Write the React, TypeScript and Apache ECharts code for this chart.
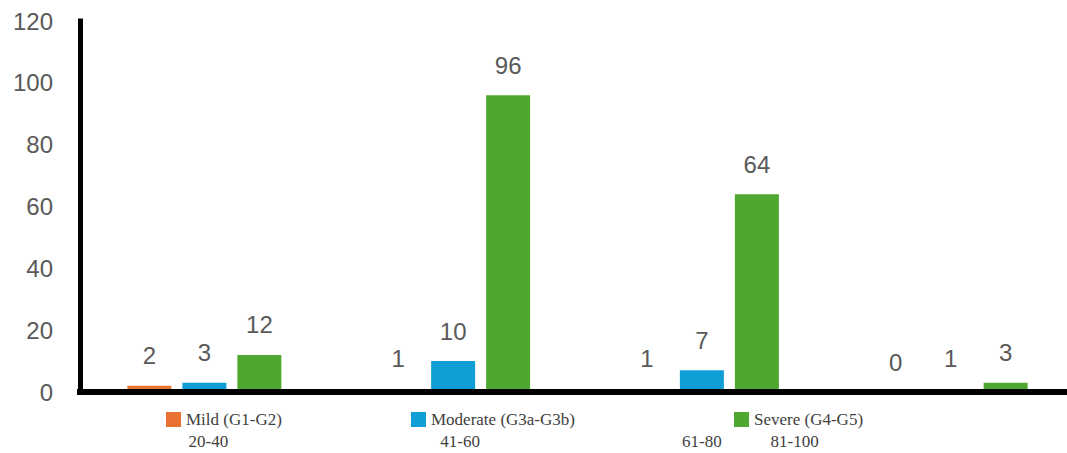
import React, { useEffect, useRef } from "react";
import * as echarts from "echarts";

const categories = ["20-40", "41-60", "61-80", "81-100"];
const seriesNames = ["Mild (G1-G2)", "Moderate (G3a-G3b)", "Severe (G4-G5)"];
const mild = [2, 1, 1, 0];
const moderate = [3, 10, 7, 1];
const severe = [12, 96, 64, 3];
const yTicks = { min: 0, max: 120, interval: 20 };

const colors = ["#E97132", "#0F9ED5", "#4EA72E"];
const labelShift = [4, 7, 0, -156];
const legendLeft = [166, 411, 734];

export default function App() {
  const ref = useRef<HTMLDivElement>(null);
  useEffect(() => {
    if (!ref.current) return;
    const chart = echarts.init(ref.current, null, { renderer: "svg" });
    const rich: Record<string, any> = {};
    labelShift.forEach((s, i) => {
      rich["l" + i] = {
        fontFamily: "Liberation Serif",
        fontSize: 17,
        color: "#404040",
        padding: s >= 0 ? [0, 0, 0, 2 * s] : [0, -2 * s, 0, 0],
      };
    });
    const data = [mild, moderate, severe];
    chart.setOption({
      animation: false,
      backgroundColor: "#ffffff",
      grid: { left: 80, top: 21, width: 995, height: 371, containLabel: false },
      legend: seriesNames.map((n, i) => ({
        data: [n],
        left: legendLeft[i],
        top: 411,
        itemWidth: 15,
        itemHeight: 15,
        itemGap: 6,
        icon: "rect",
        padding: 0,
        textStyle: { fontFamily: "Liberation Serif", fontSize: 17, color: "#404040" },
      })),
      xAxis: {
        type: "category",
        data: categories,
        z: 5,
        axisLine: { show: true, lineStyle: { color: "#000", width: 6, cap: "square" } },
        axisTick: { show: false },
        axisLabel: {
          interval: 0,
          margin: 41,
          formatter: (v: string, i: number) => `{l${i}|${v}}`,
          rich,
        },
      },
      yAxis: {
        type: "value",
        min: yTicks.min,
        max: yTicks.max,
        interval: yTicks.interval,
        z: 5,
        splitLine: { show: false },
        axisLine: { show: true, lineStyle: { color: "#000", width: 5, cap: "square" } },
        axisTick: { show: false },
        axisLabel: {
          margin: 27,
          fontFamily: "Liberation Sans",
          fontSize: 24,
          color: "#595959",
        },
      },
      series: seriesNames.map((n, i) => ({
        name: n,
        type: "bar",
        data: data[i],
        barWidth: 44,
        barGap: "25%",
        itemStyle: { color: colors[i] },
        label: {
          show: true,
          position: "top",
          distance: 18,
          fontFamily: "Liberation Sans",
          fontSize: 24,
          color: "#595959",
        },
      })),
    });
    return () => chart.dispose();
  }, []);
  return (
    <div
      style={{
        position: "absolute",
        left: 0,
        top: 0,
        width: 1067,
        height: 453,
        overflow: "hidden",
        background: "#fff",
      }}
    >
      <div ref={ref} style={{ width: 1090, height: 453 }} />
    </div>
  );
}
